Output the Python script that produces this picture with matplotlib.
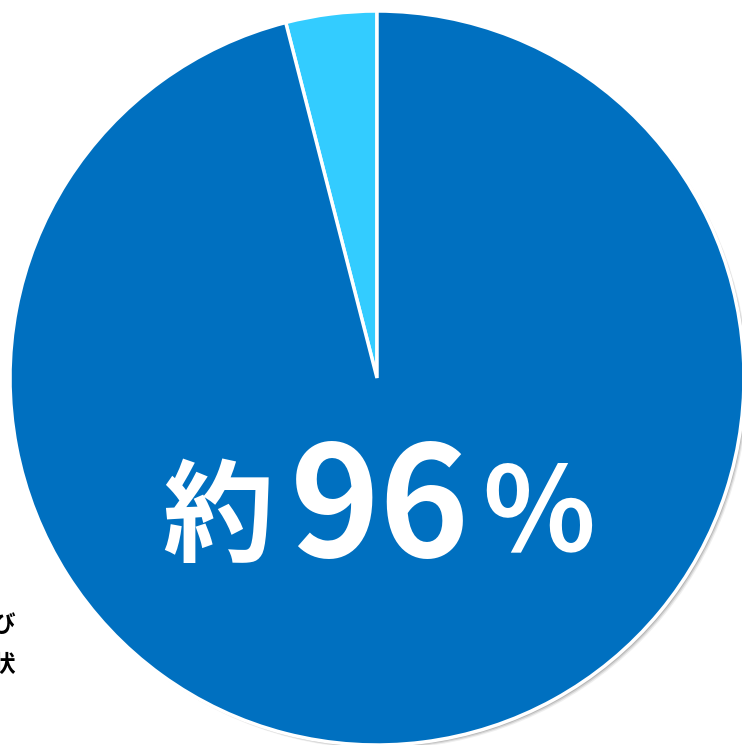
import matplotlib
matplotlib.use("Agg")
import matplotlib.pyplot as plt
from matplotlib.patches import Circle

# data
categories = ["その他", "該当"]
values = [4, 96]
colors = ["#33CCFF", "#0070C0"]
label_prefix = "約"
label_value = "96"
label_suffix = "％"
side_texts = ["び", "状"]

W, H = 742, 745
fig = plt.figure(figsize=(W / 100, H / 100), dpi=100)
ax = fig.add_axes([0, 0, 1, 1])
ax.set_xlim(0, W)
ax.set_ylim(0, H)
ax.set_aspect("equal")
ax.axis("off")

cx, cy, r = 377, H - 378, 367

# soft shadow
for off, a in [(4, 0.10), (3, 0.18), (2, 0.25)]:
    ax.add_patch(Circle((cx + off, cy - off), r, color="#606060", alpha=a, lw=0, zorder=0))

ax.pie(values, colors=colors, startangle=90, counterclock=True,
       center=(cx, cy), radius=r, frame=True,
       wedgeprops=dict(edgecolor="white", linewidth=2.5, zorder=2))
ax.set_xlim(0, W)
ax.set_ylim(0, H)
ax.axis("off")

jp = ["Noto Sans CJK JP", "DejaVu Sans"]
ax.text(218, H - 553, label_prefix, fontsize=80, fontweight="bold", color="white",
        ha="center", va="baseline", family=jp, zorder=5)
ax.text(380, H - 557, label_value, fontsize=110, fontweight="bold", color="white",
        ha="center", va="baseline", family=jp, zorder=5)
ax.text(539, H - 551, label_suffix, fontsize=84, fontweight="bold", color="white",
        ha="center", va="baseline", family=jp, zorder=5)

ax.text(15, H - 632, side_texts[0], fontsize=17, fontweight="bold", color="black",
        ha="right", va="baseline", family=jp)
ax.text(15, H - 672, side_texts[1], fontsize=17, fontweight="bold", color="black",
        ha="right", va="baseline", family=jp)

fig.savefig("out.png", dpi=100)
